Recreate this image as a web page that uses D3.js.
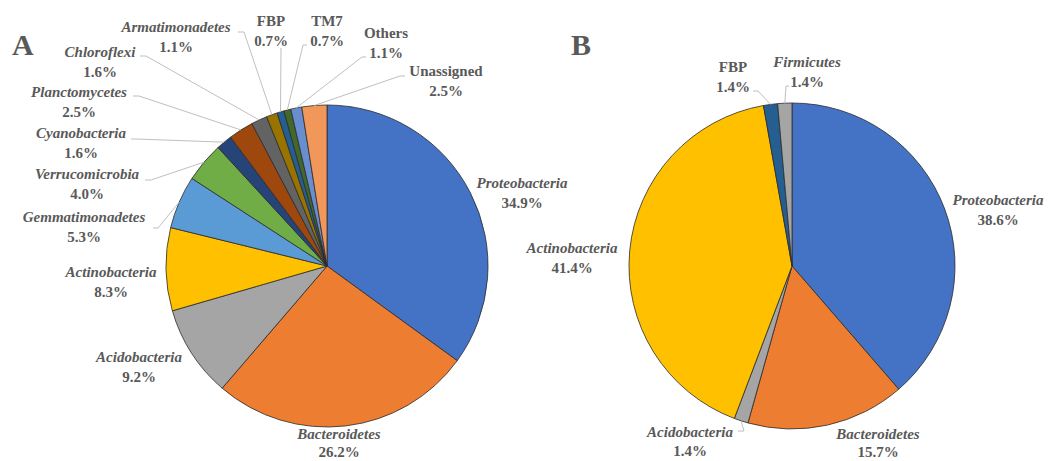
<!DOCTYPE html>
<html>
<head>
<meta charset="utf-8">
<script src="https://cdn.jsdelivr.net/npm/d3@7/dist/d3.min.js"></script>
<style>
  html, body { margin: 0; padding: 0; background: #fff; }
  svg { display: block; }
  text { font-family: "Liberation Serif", "Times New Roman", serif; font-weight: bold; fill: #595959; }
</style>
</head>
<body>
<svg id="chart" width="1049" height="461"></svg>
<script>
// ---- Data: panel A ----
const categoriesA = ["Proteobacteria", "Bacteroidetes", "Acidobacteria", "Actinobacteria",
  "Gemmatimonadetes", "Verrucomicrobia", "Cyanobacteria", "Planctomycetes", "Chloroflexi",
  "Armatimonadetes", "FBP", "TM7", "Others", "Unassigned"];
const valuesA = [34.9, 26.2, 9.2, 8.3, 5.3, 4.0, 1.6, 2.5, 1.6, 1.1, 0.7, 0.7, 1.1, 2.5];
const italicA = [true, true, true, true, true, true, true, true, true, true, false, false, false, false];

// ---- Data: panel B ----
const categoriesB = ["Proteobacteria", "Bacteroidetes", "Acidobacteria", "Actinobacteria", "FBP", "Firmicutes"];
const valuesB = [38.6, 15.7, 1.4, 41.4, 1.4, 1.4];
const italicB = [true, true, true, true, false, true];

// ---- Styles ----
const colorsA = ["#4472C4", "#ED7D31", "#A5A5A5", "#FFC000", "#5B9BD5", "#70AD47", "#264478",
  "#9E480E", "#636363", "#997300", "#255E91", "#43682B", "#698ED0", "#F1975A"];
const colorsB = ["#4472C4", "#ED7D31", "#A5A5A5", "#FFC000", "#255E91", "#A5A5A5"];

// ---- Layout (label centres / name baselines, line gap, leader starts) ----
const layoutA = {
  cx: 327, cy: 266, r: 161, letter: "A", letterX: 12, letterY: 55,
  labels: [[522, 188, 20], [339, 439, 18], [139, 362, 20], [111, 277, 20], [84, 222, 20], [87, 179, 20], [81, 138, 20],
           [79, 97, 20], [100, 57, 20], [176, 32, 20], [271, 26, 20], [327, 26, 20], [386, 38, 20], [446, 76, 20]],
  leaders: [null, null, null, null,
            [[153, 228], [158, 228]], [[145, 180], [151, 180]], [[131, 139], [136, 139]],
            [[133, 96], [139, 96]], [[140, 56], [146, 56]], [[238, 32], [244, 32]],
            [[281, 48], [281, 48]], [[307, 45], [303, 45]], [[366, 57], [362, 57]],
            [[405, 76], [400, 76]]]
};
const layoutB = {
  cx: 792, cy: 266, r: 163, letter: "B", letterX: 571, letterY: 55,
  labels: [[998, 205, 20], [878, 439, 18], [690, 437, 19], [572, 253, 20], [733, 72, 20], [807, 67, 20]],
  leaders: [null, null, [[738, 431], [744, 431]], null,
            [[753, 91], [758, 91]], [[789, 86], [786, 86]]]
};

const svg = d3.select("#chart");

function drawPie(cats, vals, italics, colors, L) {
  const data = cats.map((c, i) => ({ name: c, value: vals[i], italic: italics[i], color: colors[i], i }));
  const pie = d3.pie().value(d => d.value).sort(null);
  const arcs = pie(data);
  const arc = d3.arc().innerRadius(0).outerRadius(L.r);
  const edge = d3.arc().innerRadius(L.r).outerRadius(L.r);
  const g = svg.append("g").attr("transform", `translate(${L.cx},${L.cy})`);

  g.selectAll("path.slice").data(arcs).join("path")
    .attr("class", "slice")
    .attr("d", arc)
    .attr("fill", d => d.data.color)
    .attr("stroke", "#2b2b2b")
    .attr("stroke-width", 0.8)
    .attr("stroke-linejoin", "round");

  // leader lines
  const lineGen = d3.line();
  arcs.forEach((a, i) => {
    const ld = L.leaders[i];
    if (!ld) return;
    const p = edge.centroid(a);
    const pts = [ld[0], ld[1], [p[0] + L.cx, p[1] + L.cy]];
    svg.append("path")
      .attr("d", lineGen(pts))
      .attr("fill", "none")
      .attr("stroke", "#BFBFBF")
      .attr("stroke-width", 1);
  });

  // labels
  arcs.forEach((a, i) => {
    const [x, y, gap] = L.labels[i];
    const t = svg.append("text").attr("text-anchor", "middle").style("font-size", "15px");
    t.append("tspan").attr("x", x).attr("y", y)
      .style("font-style", a.data.italic ? "italic" : "normal")
      .text(a.data.name);
    t.append("tspan").attr("x", x).attr("y", y + gap)
      .text(a.data.value.toFixed(1) + "%");
  });

  svg.append("text").attr("x", L.letterX).attr("y", L.letterY)
    .style("font-size", "30px").text(L.letter);
}

drawPie(categoriesA, valuesA, italicA, colorsA, layoutA);
drawPie(categoriesB, valuesB, italicB, colorsB, layoutB);
</script>
</body>
</html>
